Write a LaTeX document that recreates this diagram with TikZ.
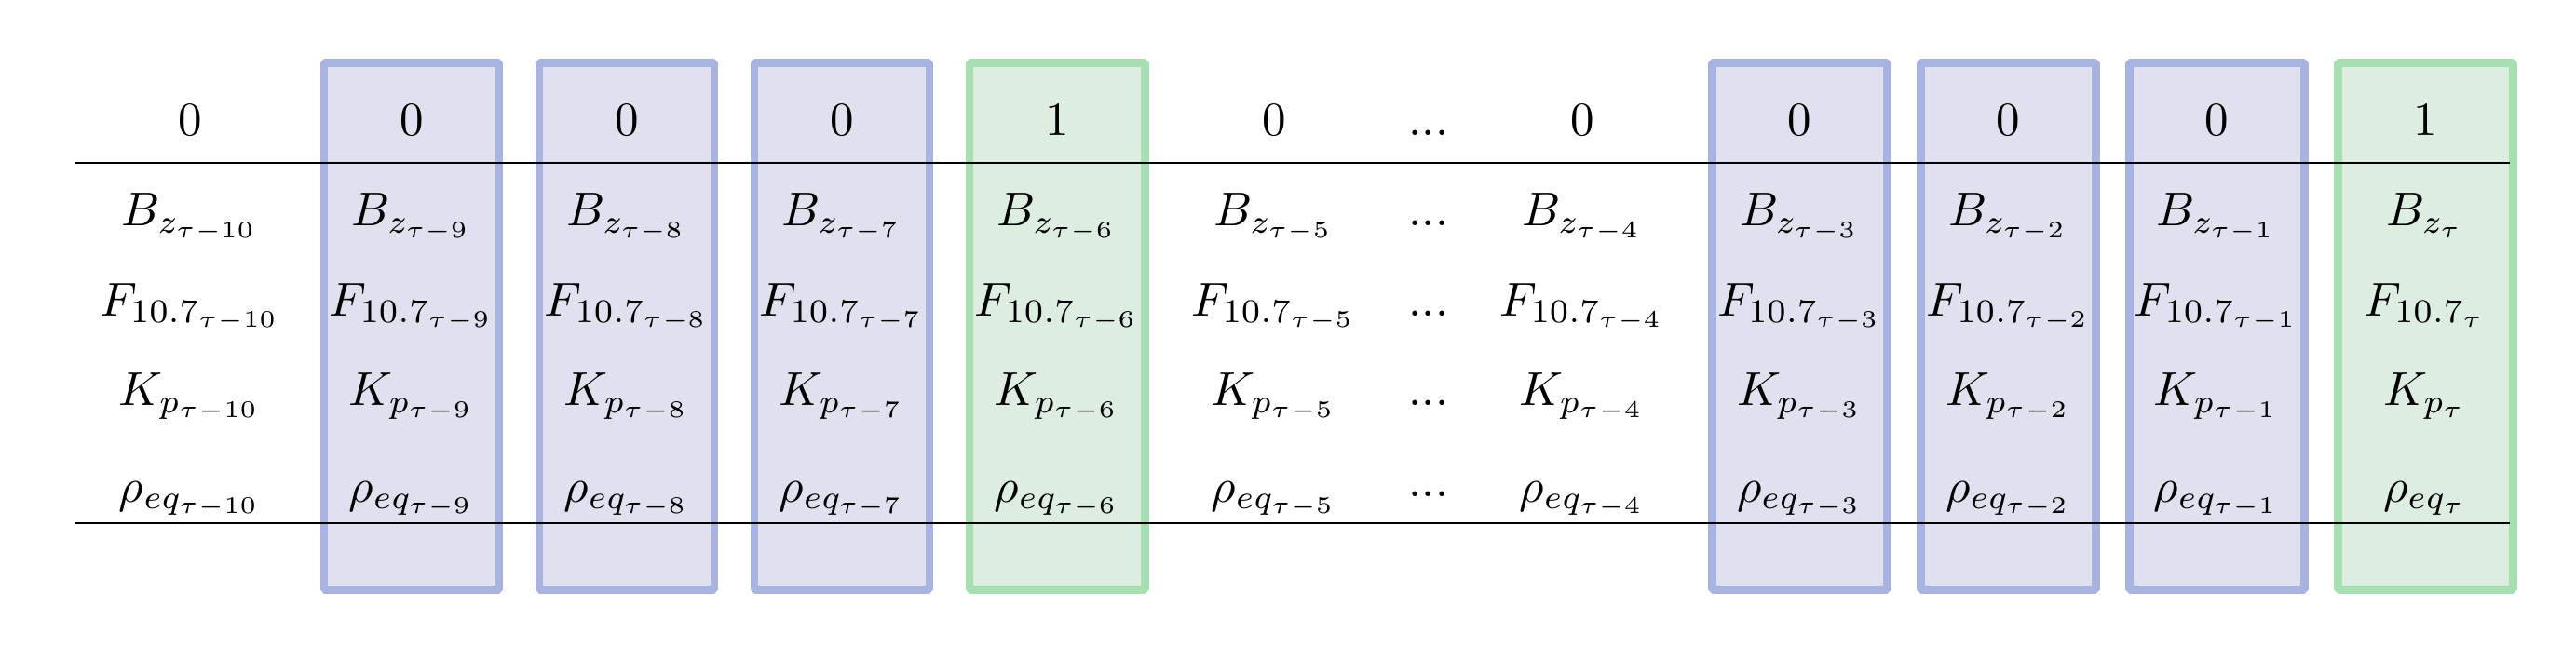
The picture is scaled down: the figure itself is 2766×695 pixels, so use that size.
\documentclass[tikz,border=0pt]{standalone}
\definecolor{bluedraw}{RGB}{168,179,223}
\definecolor{bluefill}{RGB}{223,225,238}
\definecolor{greendraw}{RGB}{168,223,177}
\definecolor{greenfill}{RGB}{222,237,226}
\begin{document}
\begin{tikzpicture}[x=0.196pt,y=-0.196pt,
  cell/.style={anchor=base,inner sep=0pt},
  colbox/.style={line width=1.76pt,line join=bevel},
  bluebox/.style={colbox,draw=bluedraw,fill=bluefill},
  greenbox/.style={colbox,draw=greendraw,fill=greenfill},
  rule/.style={line width=0.4pt,draw=black}]
\useasboundingbox (0,0) rectangle (2766,695);
% column boxes
\foreach \cx in {442,673,904,1932.5,2156.7,2380}
  \draw[bluebox] (\cx-94,67.8) rectangle (\cx+94,633.8);
\foreach \cx in {1135,2604}
  \draw[greenbox] (\cx-94,67.8) rectangle (\cx+94,633.8);
% rules
\coordinate (tl) at (80,175);
\coordinate (tr) at (2695,175);
\coordinate (bl) at (80,562);
\coordinate (br) at (2695,562);
\draw[rule] (tl) -- (tr);
\draw[rule] (bl) -- (br);
% cells
\foreach \cx/\s/\hd [count=\i] in {204/{\tau-10}/0,442/{\tau-9}/0,673/{\tau-8}/0,904/{\tau-7}/0,1135/{\tau-6}/1,1368/{\tau-5}/0,1699/{\tau-4}/0,1932.5/{\tau-3}/0,2156.7/{\tau-2}/0,2380/{\tau-1}/0,2604/{\tau}/1}{
  \node[cell] (h\i) at (\cx,145.5) {$\hd$};
  \node[cell] (bz\i) at (\cx,243) {$B_{z_{\s}}$};
  \node[cell] (f\i) at (\cx,339) {$F_{10.7_{\s}}$};
  \node[cell] (kp\i) at (\cx,435.5) {$K_{p_{\s}}$};
  \node[cell] (rho\i) at (\cx,539) {$\rho_{eq_{\s}}$};
}
% dots column
\node[cell] (dh) at (1534,145.5) {...};
\node[cell] (db) at (1534,243) {...};
\node[cell] (df) at (1534,339) {...};
\node[cell] (dk) at (1534,435.5) {...};
\node[cell] (dr) at (1534,533.5) {...};
\end{tikzpicture}
\end{document}
